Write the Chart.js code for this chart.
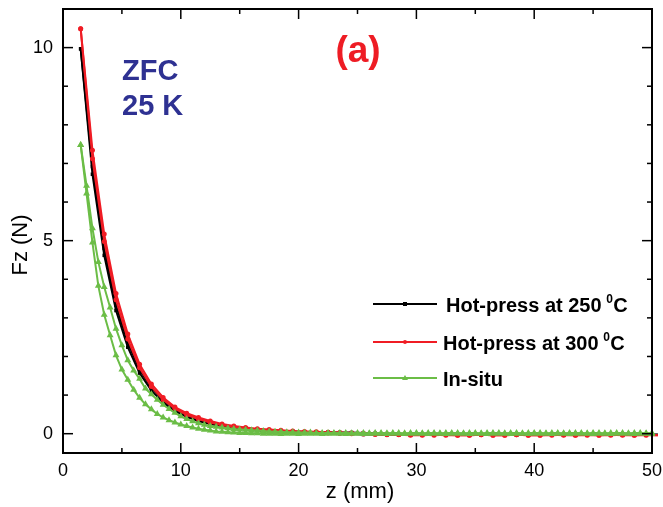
<!DOCTYPE html>
<html>
<head>
<meta charset="utf-8">
<script src="https://cdn.jsdelivr.net/npm/chart.js@4.4.1/dist/chart.umd.min.js"></script>
<style>
  html, body { margin: 0; padding: 0; background: #ffffff; }
  #c { display: block; }
</style>
</head>
<body>
<canvas id="c" width="663" height="507"></canvas>
<script>
const FONT = '"Liberation Sans", Arial, Helvetica, sans-serif';

// Gap z (mm), hot-pressed samples: one reading per mm
const zHot = [1.5, 2.5, 3.5, 4.5, 5.5, 6.5, 7.5, 8.5, 9.5, 10.5,
  11.5, 12.5, 13.5, 14.5, 15.5, 16.5, 17.5, 18.5, 19.5, 20.5,
  21.5, 22.5, 23.5, 24.5, 25.5, 26.5, 27.5, 28.5, 29.5, 30.5,
  31.5, 32.5, 33.5, 34.5, 35.5, 36.5, 37.5, 38.5, 39.5, 40.5,
  41.5, 42.5, 43.5, 44.5, 45.5, 46.5, 47.5, 48.5, 49.5, 50.5];

// Levitation force Fz (N), hot-press at 250 C: outer and inner branch
const hp250Outer = [9.97, 6.92, 4.80, 3.33, 2.36, 1.66, 1.19, 0.87, 0.64, 0.49,
  0.38, 0.30, 0.23, 0.18, 0.14, 0.11, 0.09, 0.07, 0.06, 0.05,
  0.04, 0.04, 0.03, 0.03, 0.02, 0.01, 0.00, -0.01, -0.02, -0.02,
  -0.03, -0.02, -0.03, -0.03, -0.02, -0.03, -0.03, -0.02, -0.03, -0.03,
  -0.02, -0.03, -0.03, -0.02, -0.03, -0.03, -0.02, -0.03, -0.03, -0.02];
const hp250Inner = [9.97, 6.72, 4.62, 3.19, 2.24, 1.57, 1.12, 0.81, 0.59, 0.44,
  0.33, 0.25, 0.19, 0.14, 0.11, 0.08, 0.06, 0.05, 0.04, 0.03,
  0.02, 0.01, 0.00, -0.01, -0.02, -0.02, -0.03, -0.03, -0.02, -0.03,
  -0.03, -0.03, -0.02, -0.03, -0.03, -0.02, -0.03, -0.03, -0.03, -0.02,
  -0.03, -0.03, -0.02, -0.03, -0.03, -0.03, -0.02, -0.03, -0.03, -0.03];

// Hot-press at 300 C
const hp300Outer = [10.49, 7.34, 5.17, 3.63, 2.58, 1.80, 1.29, 0.94, 0.69, 0.53,
  0.42, 0.33, 0.25, 0.20, 0.16, 0.13, 0.11, 0.09, 0.07, 0.06,
  0.05, 0.04, 0.03, 0.02, 0.01, 0.00, -0.01, -0.02, -0.03, -0.03,
  -0.04, -0.03, -0.04, -0.04, -0.03, -0.04, -0.04, -0.03, -0.04, -0.04,
  -0.03, -0.04, -0.04, -0.03, -0.04, -0.04, -0.03, -0.04, -0.04, -0.04];
const hp300Inner = [10.49, 7.12, 4.98, 3.47, 2.45, 1.71, 1.22, 0.88, 0.65, 0.49,
  0.38, 0.29, 0.22, 0.17, 0.13, 0.10, 0.08, 0.06, 0.05, 0.04,
  0.03, 0.02, 0.01, 0.00, -0.01, -0.02, -0.03, -0.03, -0.04, -0.04,
  -0.03, -0.04, -0.04, -0.04, -0.03, -0.04, -0.04, -0.03, -0.04, -0.04,
  -0.04, -0.03, -0.04, -0.04, -0.04, -0.03, -0.04, -0.04, -0.03, -0.04];

// In-situ sample: one reading per 0.5 mm
const zInSitu = [1.5, 2, 2.5, 3, 3.5, 4, 4.5, 5, 5.5, 6,
  6.5, 7, 7.5, 8, 8.5, 9, 9.5, 10, 10.5, 11,
  11.5, 12, 12.5, 13, 13.5, 14, 14.5, 15, 15.5, 16,
  16.5, 17, 17.5, 18, 18.5, 19, 19.5, 20, 20.5, 21,
  21.5, 22, 22.5, 23, 23.5, 24, 24.5, 25, 25.5, 26,
  26.5, 27, 27.5, 28, 28.5, 29, 29.5, 30, 30.5, 31,
  31.5, 32, 32.5, 33, 33.5, 34, 34.5, 35, 35.5, 36,
  36.5, 37, 37.5, 38, 38.5, 39, 39.5, 40, 40.5, 41,
  41.5, 42, 42.5, 43, 43.5, 44, 44.5, 45, 45.5, 46,
  46.5, 47, 47.5, 48, 48.5, 49, 49.5, 50, 50.5, 51];
const inSituOuter = [7.48, 6.42, 5.32, 4.45, 3.80, 3.27, 2.72, 2.29, 1.90, 1.64,
  1.42, 1.17, 1.02, 0.88, 0.75, 0.64, 0.54, 0.45, 0.38, 0.32,
  0.27, 0.23, 0.20, 0.18, 0.16, 0.14, 0.12, 0.11, 0.10, 0.09,
  0.08, 0.07, 0.06, 0.05, 0.05, 0.04, 0.04, 0.03, 0.03, 0.03,
  0.02, 0.02, 0.02, 0.02, 0.02, 0.02, 0.01, 0.02, 0.02, 0.01,
  0.02, 0.02, 0.01, 0.02, 0.02, 0.01, 0.02, 0.02, 0.01, 0.02,
  0.02, 0.01, 0.02, 0.02, 0.02, 0.01, 0.02, 0.02, 0.01, 0.02,
  0.02, 0.02, 0.01, 0.02, 0.02, 0.01, 0.02, 0.02, 0.02, 0.01,
  0.02, 0.02, 0.01, 0.02, 0.02, 0.02, 0.01, 0.02, 0.02, 0.01,
  0.02, 0.02, 0.02, 0.01, 0.02, 0.02, 0.01, 0.02, 0.02, 0.02];
const inSituInner = [7.48, 6.22, 4.95, 3.83, 3.08, 2.55, 2.03, 1.66, 1.40, 1.14,
  0.93, 0.76, 0.63, 0.51, 0.42, 0.35, 0.29, 0.24, 0.20, 0.16,
  0.13, 0.10, 0.08, 0.06, 0.05, 0.04, 0.03, 0.02, 0.02, 0.01,
  0.01, 0.00, 0.00, 0.00, -0.01, 0.00, 0.00, -0.01, 0.00, 0.00,
  0.00, -0.01, 0.00, 0.00, 0.00, -0.01, 0.00, 0.00, -0.01, 0.00,
  0.00, 0.00, -0.01, 0.00, 0.00, -0.01, 0.00, 0.00, 0.00, -0.01,
  0.00, 0.00, -0.01, 0.00, 0.00, 0.00, -0.01, 0.00, 0.00, -0.01,
  0.00, 0.00, 0.00, -0.01, 0.00, 0.00, -0.01, 0.00, 0.00, 0.00,
  -0.01, 0.00, 0.00, -0.01, 0.00, 0.00, 0.00, -0.01, 0.00, 0.00,
  -0.01, 0.00, 0.00, 0.00, -0.01, 0.00, 0.00, -0.01, 0.00, 0.00];

// Axis ticks
const xTickLabels = [0, 10, 20, 30, 40, 50];
const xMinorTicks = [5, 15, 25, 35, 45];
const yTickLabels = [0, 5, 10];
const yMinorTicks = [1, 2, 3, 4, 6, 7, 8, 9];

const seriesNames = ['Hot-press at 250 ', 'Hot-press at 300 ', 'In-situ'];
const COLORS = ['#000000', '#f01c24', '#6bbd46'];
const MARKERS = ['rect', 'circle', 'triangle'];
const RADII = [2.5, 2.5, 4];

const toXY = (zs, fs) => zs.map((z, i) => ({ x: z, y: fs[i] }));

function makeSet(k, zs, fs, order) {
  return {
    label: seriesNames[k],
    data: toXY(zs, fs),
    borderColor: COLORS[k],
    backgroundColor: COLORS[k],
    borderWidth: 2,
    pointStyle: MARKERS[k],
    pointRadius: RADII[k],
    pointBorderWidth: 0,
    pointBackgroundColor: COLORS[k],
    tension: 0,
    clip: false,
    order: order
  };
}

const datasets = [
  makeSet(0, zHot, hp250Outer, 5),
  makeSet(0, zHot, hp250Inner, 4),
  makeSet(1, zHot, hp300Outer, 3),
  makeSet(1, zHot, hp300Inner, 2),
  makeSet(2, zInSitu, inSituOuter, 1),
  makeSet(2, zInSitu, inSituInner, 0)
];

function line(ctx, x1, y1, x2, y2) {
  ctx.beginPath(); ctx.moveTo(x1, y1); ctx.lineTo(x2, y2); ctx.stroke();
}

// Boxed frame with inward ticks on all four sides, tick labels, titles, notes and legend
const framePlugin = {
  id: 'frame',
  afterDatasetsDraw(chart) {
    const { ctx, chartArea: a, scales: { x, y } } = chart;
    ctx.save();
    ctx.strokeStyle = '#000';
    ctx.lineWidth = 2;
    ctx.strokeRect(a.left, a.top, a.right - a.left, a.bottom - a.top);
    ctx.lineWidth = 1.5;
    const MAJ = 10, MIN = 5;
    xTickLabels.forEach(v => {
      const p = x.getPixelForValue(v);
      line(ctx, p, a.bottom, p, a.bottom - MAJ);
      line(ctx, p, a.top, p, a.top + MAJ);
    });
    xMinorTicks.forEach(v => {
      const p = x.getPixelForValue(v);
      line(ctx, p, a.bottom, p, a.bottom - MIN);
      line(ctx, p, a.top, p, a.top + MIN);
    });
    yTickLabels.forEach(v => {
      const p = y.getPixelForValue(v);
      line(ctx, a.left, p, a.left + MAJ, p);
      line(ctx, a.right, p, a.right - MAJ, p);
    });
    yMinorTicks.forEach(v => {
      const p = y.getPixelForValue(v);
      line(ctx, a.left, p, a.left + MIN, p);
      line(ctx, a.right, p, a.right - MIN, p);
    });

    // tick labels
    ctx.fillStyle = '#000';
    ctx.font = '18px ' + FONT;
    ctx.textBaseline = 'middle';
    ctx.textAlign = 'center';
    xTickLabels.forEach(v => ctx.fillText(String(v), x.getPixelForValue(v), a.bottom + 18));
    ctx.textAlign = 'right';
    yTickLabels.forEach(v => ctx.fillText(String(v), a.left - 10, y.getPixelForValue(v)));
    ctx.restore();
  },
  afterDraw(chart) {
    const { ctx } = chart;
    ctx.save();
    // axis titles
    ctx.fillStyle = '#000';
    ctx.font = '22px ' + FONT;
    ctx.textAlign = 'center';
    ctx.textBaseline = 'middle';
    ctx.fillText('z (mm)', 360, 492);
    ctx.save();
    ctx.translate(21, 245);
    ctx.rotate(-Math.PI / 2);
    ctx.fillText('Fz (N)', 0, 0);
    ctx.restore();

    // panel annotations
    ctx.textAlign = 'left';
    ctx.textBaseline = 'alphabetic';
    ctx.fillStyle = '#2e3192';
    ctx.font = 'bold 29px ' + FONT;
    ctx.fillText('ZFC', 122, 80);
    ctx.fillText('25 K', 122, 115);
    ctx.fillStyle = '#ee1c24';
    ctx.font = 'bold 37px ' + FONT;
    ctx.textAlign = 'center';
    ctx.fillText('(a)', 358, 62);

    // legend
    const rows = [304, 342, 378];
    const textX = [446, 443, 443];
    rows.forEach((yy, k) => {
      ctx.strokeStyle = COLORS[k];
      ctx.fillStyle = COLORS[k];
      ctx.lineWidth = 2;
      line(ctx, 373, yy, 437, yy);
      const mx = 405;
      ctx.beginPath();
      if (k === 0) {
        ctx.fillRect(mx - 2, yy - 2, 4, 4);
      } else if (k === 1) {
        ctx.arc(mx, yy, 2, 0, Math.PI * 2); ctx.fill();
      } else {
        ctx.moveTo(mx, yy - 3); ctx.lineTo(mx + 3, yy + 2); ctx.lineTo(mx - 3, yy + 2); ctx.closePath(); ctx.fill();
      }
      ctx.fillStyle = '#000';
      ctx.textAlign = 'left';
      ctx.textBaseline = 'middle';
      ctx.font = 'bold 20px ' + FONT;
      const label = seriesNames[k];
      ctx.fillText(label, textX[k], yy + 2);
      if (k < 2) {
        let xx = textX[k] + ctx.measureText(label).width - 1;
        ctx.font = 'bold 12px ' + FONT;
        ctx.fillText('0', xx, yy - 4);
        xx += ctx.measureText('0').width + 0.5;
        ctx.font = 'bold 20px ' + FONT;
        ctx.fillText('C', xx, yy + 2);
      }
    });
    ctx.restore();
  }
};

new Chart(document.getElementById('c'), {
  type: 'line',
  data: { datasets: datasets },
  options: {
    responsive: false,
    animation: false,
    devicePixelRatio: 1,
    layout: { padding: { top: 9, right: 11, left: 0, bottom: 0 } },
    plugins: { legend: { display: false }, tooltip: { enabled: false } },
    scales: {
      x: {
        type: 'linear', min: 0, max: 50,
        grid: { display: false, drawTicks: false },
        border: { display: false },
        ticks: { display: false },
        afterFit: s => { s.height = 54; }
      },
      y: {
        type: 'linear', min: -0.5, max: 11,
        grid: { display: false, drawTicks: false },
        border: { display: false },
        ticks: { display: false },
        afterFit: s => { s.width = 63; }
      }
    }
  },
  plugins: [framePlugin]
});
</script>
</body>
</html>
